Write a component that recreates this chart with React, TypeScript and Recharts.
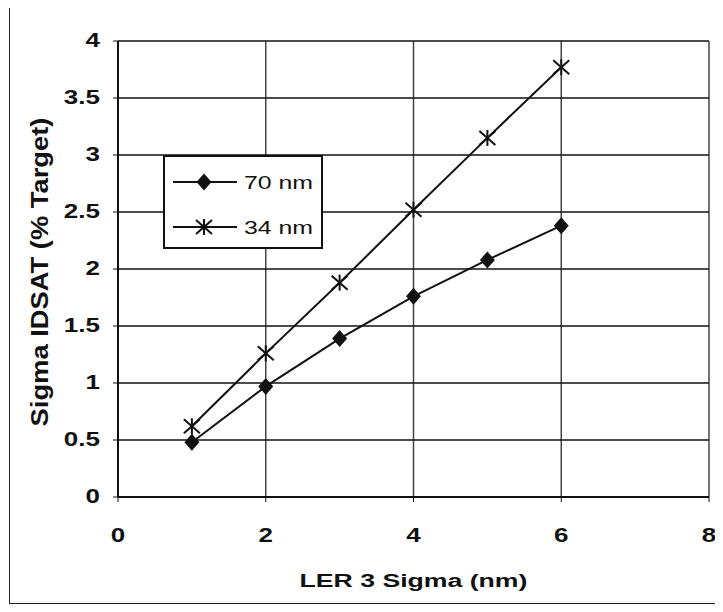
import {
  LineChart,
  Line,
  XAxis,
  YAxis,
  CartesianGrid,
  Legend,
} from "recharts";

const lerSigma = [1, 2, 3, 4, 5, 6];
const sigma70 = [0.48, 0.97, 1.39, 1.76, 2.08, 2.38];
const sigma34 = [0.62, 1.26, 1.88, 2.52, 3.15, 3.77];
const xTicks = [0, 2, 4, 6, 8];
const yTicks = [0, 0.5, 1, 1.5, 2, 2.5, 3, 3.5, 4];
const seriesNames = ["70 nm", "34 nm"];

const data = lerSigma.map((x, i) => ({ x, s70: sigma70[i], s34: sigma34[i] }));

const FONT = '"Liberation Sans", Arial, Helvetica, sans-serif';
const INK = "#111";

// the scanned type is wide, so text is stretched along its baseline
const XTick = ({ x, y, payload }: any) => (
  <text
    transform={`translate(${x},${y + 38}) scale(1.3,1)`}
    textAnchor="middle"
    fontSize={20}
    fontWeight="bold"
    fontFamily={FONT}
    fill={INK}
  >
    {payload.value}
  </text>
);

const YTick = ({ x, y, payload }: any) => (
  <text
    transform={`translate(${x},${y + 6}) scale(1.3,1)`}
    textAnchor="end"
    fontSize={20}
    fontWeight="bold"
    fontFamily={FONT}
    fill={INK}
  >
    {payload.value}
  </text>
);

const XLabel = ({ viewBox }: any) => (
  <text
    transform={`translate(${viewBox.x + viewBox.width / 2},${viewBox.y + 90}) scale(1.48,1)`}
    textAnchor="middle"
    fontSize={18}
    fontWeight="bold"
    fontFamily={FONT}
    fill={INK}
  >
    LER 3 Sigma (nm)
  </text>
);

const YLabel = ({ viewBox }: any) => (
  <text
    transform={`translate(${viewBox.x + 39},${viewBox.y + viewBox.height / 2 + 3}) rotate(-90) scale(1.14,1)`}
    textAnchor="middle"
    fontSize={24}
    fontWeight="bold"
    fontFamily={FONT}
    fill={INK}
  >
    Sigma IDSAT (% Target)
  </text>
);

const diamondPath = (cx: number, cy: number) =>
  `M${cx},${cy - 8.5} L${cx + 7.5},${cy} L${cx},${cy + 8.5} L${cx - 7.5},${cy} Z`;

const DiamondDot = ({ cx, cy, index }: any) => (
  <path key={`d-${index}`} d={diamondPath(cx, cy)} fill={INK} />
);

const StarMark = ({ cx, cy }: { cx: number; cy: number }) => (
  <g stroke={INK} strokeWidth={2} fill="none">
    <line x1={cx - 8} y1={cy - 7} x2={cx + 8} y2={cy + 7} />
    <line x1={cx - 8} y1={cy + 7} x2={cx + 8} y2={cy - 7} />
    <line x1={cx} y1={cy - 8} x2={cx} y2={cy + 8} />
  </g>
);

const StarDot = ({ cx, cy, index }: any) => (
  <StarMark key={`s-${index}`} cx={cx} cy={cy} />
);

const LegendBox = () => (
  <svg width={160} height={94} style={{ display: "block" }}>
    <rect x={1} y={1} width={158} height={92} fill="#fff" stroke={INK} strokeWidth={2} />
    {seriesNames.map((name, i) => {
      const cy = i === 0 ? 27 : 72;
      return (
        <g key={name}>
          <line x1={10} y1={cy} x2={74} y2={cy} stroke={INK} strokeWidth={2} />
          {i === 0 ? <path d={diamondPath(41, cy)} fill={INK} /> : <StarMark cx={41} cy={cy} />}
          <text
            transform={`translate(81,${cy + 7}) scale(1.38,1)`}
            fontSize={18}
            fontFamily={FONT}
            fill={INK}
          >
            {name}
          </text>
        </g>
      );
    })}
  </svg>
);

export default function App() {
  return (
    <div style={{ position: "relative", width: 710, height: 600, marginTop: -4, marginLeft: 1 }}>
      <div
        style={{
          position: "absolute",
          inset: 0,
          border: "1.5px solid #222",
          boxSizing: "border-box",
        }}
      />
      <div style={{ position: "absolute", left: 0, top: 0 }}>
        <LineChart
          width={710}
          height={600}
          data={data}
          margin={{ top: 37, right: 10, left: 0, bottom: 0 }}
        >
          <CartesianGrid horizontal={false} stroke="#444" strokeWidth={1.5} />
          <CartesianGrid vertical={false} stroke={INK} strokeWidth={1.5} />
          <XAxis
            type="number"
            dataKey="x"
            domain={[0, 8]}
            ticks={xTicks}
            height={107}
            axisLine={{ stroke: INK, strokeWidth: 2 }}
            tickLine={{ stroke: INK }}
            tickSize={5}
            tickMargin={2}
            tick={<XTick />}
            label={<XLabel />}
          />
          <YAxis
            type="number"
            domain={[0, 4]}
            ticks={yTicks}
            width={109}
            axisLine={{ stroke: INK, strokeWidth: 2 }}
            tickLine={{ stroke: INK }}
            tickSize={5}
            tickMargin={13}
            tick={<YTick />}
            label={<YLabel />}
          />
          <Legend
            layout="vertical"
            align="center"
            verticalAlign="middle"
            content={<LegendBox />}
            wrapperStyle={{ position: "absolute", left: 154, top: 151, width: 160, height: 94 }}
          />
          <Line
            type="linear"
            dataKey="s70"
            name={seriesNames[0]}
            stroke={INK}
            strokeWidth={2}
            dot={DiamondDot}
            isAnimationActive={false}
          />
          <Line
            type="linear"
            dataKey="s34"
            name={seriesNames[1]}
            stroke={INK}
            strokeWidth={2}
            dot={StarDot}
            isAnimationActive={false}
          />
        </LineChart>
      </div>
    </div>
  );
}
